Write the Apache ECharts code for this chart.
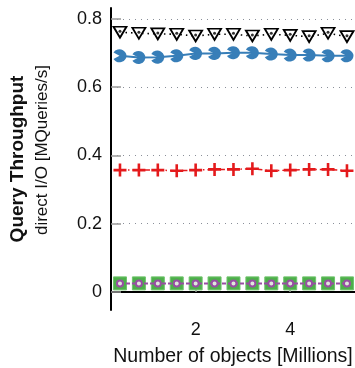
<!DOCTYPE html>
<html><head><meta charset="utf-8">
<script src="https://cdn.jsdelivr.net/npm/echarts@6/dist/echarts.min.js"></script>
<style>html,body{margin:0;padding:0;background:#fff}#c{width:355px;height:368px}</style>
</head><body><div id="c"></div>
<script>
const xValues = [0.4,0.8,1.2,1.6,2.0,2.4,2.8,3.2,3.6,4.0,4.4,4.8,5.2];
const triangleSeries = [0.761,0.758,0.756,0.755,0.750,0.755,0.755,0.750,0.755,0.752,0.748,0.758,0.748];
const blueSeries = [0.692,0.687,0.688,0.692,0.699,0.699,0.701,0.701,0.697,0.694,0.694,0.692,0.692];
const redSeries = [0.357,0.357,0.357,0.355,0.357,0.359,0.359,0.361,0.355,0.357,0.359,0.359,0.355];
const greenSeries = [0.025,0.025,0.025,0.025,0.025,0.025,0.025,0.025,0.025,0.025,0.025,0.025,0.025];
const purpleSeries = [0.025,0.025,0.025,0.025,0.025,0.025,0.025,0.025,0.025,0.025,0.025,0.025,0.025];
const yTicks = [0,0.2,0.4,0.6,0.8];
const xTicks = [2,4];
const yTitle = 'Query Throughput';
const ySubtitle = 'direct I/O [MQueries/s]';
const xTitle = 'Number of objects [Millions]';

const pair = ys => xValues.map((x,i)=>[x,ys[i]]);
const font = 'Liberation Sans, Arial, sans-serif';
const chart = echarts.init(document.getElementById('c'));
chart.setOption({
  animation:false,
  graphic:[
    {type:'text',x:18,y:159,rotation:Math.PI/2,style:{text:yTitle,font:'bold 19px '+font,fill:'#111',align:'center',verticalAlign:'middle'}},
    {type:'text',x:42,y:150,rotation:Math.PI/2,style:{text:ySubtitle,font:'17px '+font,fill:'#111',align:'center',verticalAlign:'middle'}}
  ],
  grid:{left:111,top:8,width:244,height:302,containLabel:false,outerBoundsMode:'none'},
  xAxis:{type:'value',min:0.21,max:5.37,
    name:xTitle,nameLocation:'middle',nameGap:37,
    nameTextStyle:{fontFamily:font,fontSize:19.5,color:'#111'},
    axisLine:{show:true,lineStyle:{color:'#000',width:2}},
    axisTick:{show:true,inside:true,length:10,customValues:xTicks,lineStyle:{color:'#999',width:1.5}},
    axisLabel:{customValues:xTicks,fontFamily:font,fontSize:18,color:'#111',margin:11},
    splitLine:{show:false}},
  yAxis:{type:'value',min:-0.053,max:0.832,
    axisLine:{show:true,lineStyle:{color:'#000',width:2}},
    axisTick:{show:true,inside:true,length:10,customValues:yTicks,lineStyle:{color:'#999',width:1.5}},
    axisLabel:{customValues:yTicks,fontFamily:font,fontSize:18,color:'#111',margin:9,formatter:v=>v===0?'0':String(v)},
    splitLine:{show:true,customValues:yTicks,lineStyle:{color:'#8a8f99',width:1.2,type:[1,5]}}},
  series:[
    {type:'line',data:pair(greenSeries),symbol:'rect',symbolSize:13,
      itemStyle:{color:'#4daf4a',borderColor:'#6fc46c',borderWidth:1},lineStyle:{width:0},z:2},
    {type:'line',data:pair(purpleSeries),symbol:'circle',symbolSize:6,
      itemStyle:{color:'#dfe9dc',borderColor:'#984ea3',borderWidth:2},lineStyle:{color:'#984ea3',width:2,type:[4,2]},z:3},
    {type:'line',data:pair(redSeries),symbol:'path://M4,0 H6 V4 H10 V6 H6 V10 H4 V6 H0 V4 H4 Z',symbolSize:13,
      itemStyle:{color:'#e41a1c'},lineStyle:{color:'#e41a1c',width:1.5,type:[5,3,1.5,3]},z:3},
    {type:'line',data:pair(blueSeries),symbol:'path://M10,10 L1.34,5 A10,10 0 1,1 1.34,15 Z',symbolSize:[13,13],
      itemStyle:{color:'#377eb8'},lineStyle:{color:'#377eb8',width:2},z:3},
    {type:'line',data:pair(triangleSeries),symbol:'path://M0,0 L12,0 L6,10.5 Z',symbolSize:[13,11],
      itemStyle:{color:'#fff',borderColor:'#000',borderWidth:1.8},lineStyle:{color:'#000',width:1.6,type:[1.5,4]},z:3},
    {type:'scatter',data:pair(triangleSeries),symbol:'circle',symbolSize:3,symbolOffset:[0,-1],
      itemStyle:{color:'#000'},z:4}
  ]
});
</script></body></html>
